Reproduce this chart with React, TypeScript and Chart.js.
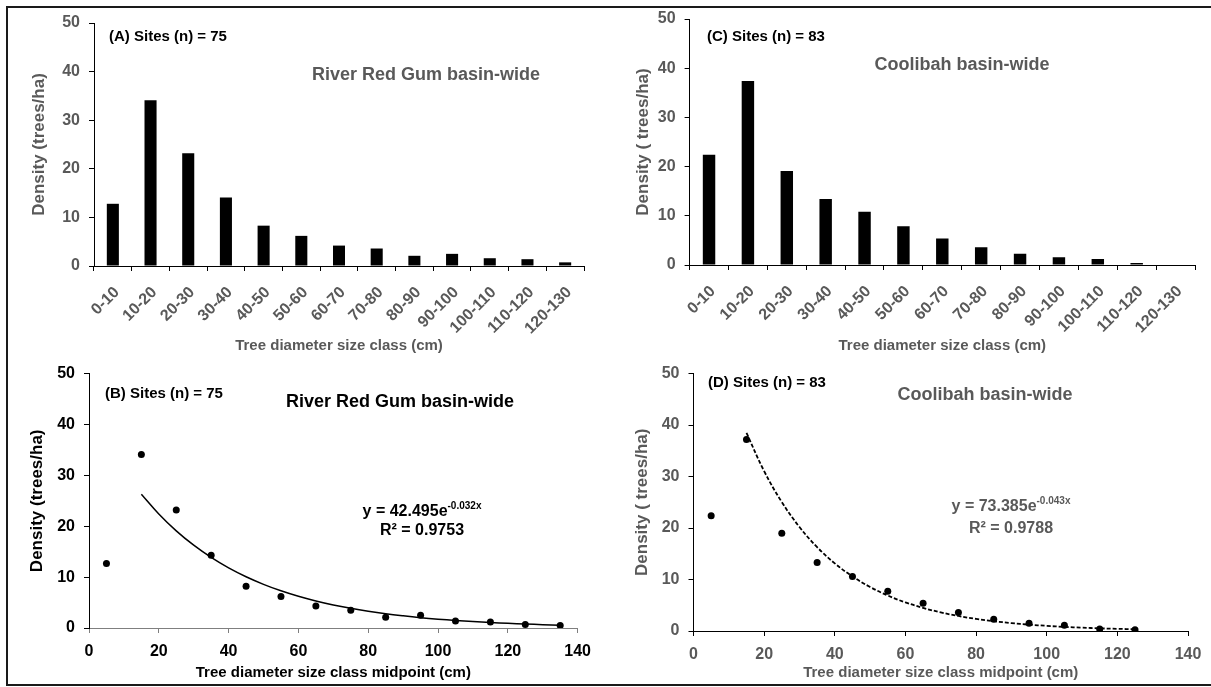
import React, { useEffect, useRef } from "react";
import { Chart, registerables } from "chart.js";
Chart.register(...registerables);

// ---------- data ----------
const sizeClasses = ["0-10", "10-20", "20-30", "30-40", "40-50", "50-60", "60-70", "70-80", "80-90", "90-100", "100-110", "110-120", "120-130"];
const redGumDensity = [12.8, 34.1, 23.2, 14.1, 8.3, 6.2, 4.2, 3.6, 2.1, 2.5, 1.6, 1.4, 0.75];
const coolibahDensity = [22.4, 37.4, 19.1, 13.4, 10.8, 7.9, 5.4, 3.6, 2.3, 1.6, 1.2, 0.4, 0];

const redGumMidpoints = [5, 15, 25, 35, 45, 55, 65, 75, 85, 95, 105, 115, 125, 135];
const redGumPoints = [12.7, 34.1, 23.2, 14.3, 8.2, 6.2, 4.3, 3.5, 2.1, 2.5, 1.4, 1.2, 0.7, 0.5];
const coolibahMidpoints = [5, 15, 25, 35, 45, 55, 65, 75, 85, 95, 105, 115, 125];
const coolibahPoints = [22.4, 37.2, 19.0, 13.3, 10.6, 7.7, 5.4, 3.6, 2.3, 1.5, 1.1, 0.4, 0.25];

// trendline values (y = 42.495e^-0.032x, y = 73.385e^-0.043x)
const redGumTrendX = [15, 20, 25, 30, 35, 40, 45, 50, 55, 60, 65, 70, 75, 80, 85, 90, 95, 100, 105, 110, 115, 120, 125, 130, 135];
const redGumTrendY = [26.30, 22.41, 19.09, 16.27, 13.87, 11.81, 10.07, 8.58, 7.31, 6.23, 5.31, 4.52, 3.86, 3.29, 2.80, 2.39, 2.03, 1.73, 1.48, 1.26, 1.07, 0.91, 0.78, 0.66, 0.56];
const coolibahTrendX = [15, 20, 25, 30, 35, 40, 45, 50, 55, 60, 65, 70, 75, 80, 85, 90, 95, 100, 105, 110, 115, 120, 125];
const coolibahTrendY = [38.50, 31.06, 25.05, 20.20, 16.29, 13.14, 10.60, 8.55, 6.89, 5.56, 4.49, 3.62, 2.92, 2.35, 1.90, 1.53, 1.23, 1.00, 0.80, 0.65, 0.52, 0.42, 0.34];

const densityTicks = [0, 10, 20, 30, 40, 50];
const midpointTicks = [0, 20, 40, 60, 80, 100, 120, 140];

// ---------- styling ----------
const NARROW = "'Liberation Sans Narrow', 'Arial Narrow', 'Liberation Sans', sans-serif";
const TICKFONT = "'Liberation Sans', Arial, sans-serif";
const GRAY = "#595959";
const BLACK = "#000000";

type TextItem = {
  text: string;
  x: number;
  y: number;
  size: number;
  color: string;
  align: "left" | "center";
  sup?: string;
  supSize?: number;
};

function makeTextPlugin(items: TextItem[]) {
  return {
    id: "panelText",
    afterDraw(chart: any) {
      const ctx = chart.ctx as CanvasRenderingContext2D;
      items.forEach((it) => {
        ctx.save();
        ctx.fillStyle = it.color;
        ctx.textBaseline = "middle";
        ctx.textAlign = "left";
        const mainFont = `bold ${it.size}px ${NARROW}`;
        const supFont = `bold ${it.supSize || 10}px ${NARROW}`;
        ctx.font = mainFont;
        const w1 = ctx.measureText(it.text).width;
        let w2 = 0;
        if (it.sup) {
          ctx.font = supFont;
          w2 = ctx.measureText(it.sup).width;
        }
        const x0 = it.align === "center" ? it.x - (w1 + w2) / 2 : it.x;
        ctx.font = mainFont;
        ctx.fillText(it.text, x0, it.y);
        if (it.sup) {
          ctx.font = supFont;
          ctx.fillText(it.sup, x0 + w1, it.y - it.size * 0.38);
        }
        ctx.restore();
      });
    },
  };
}

type Layout = {
  padTop: number;
  padRight: number;
  yWidth: number;
  xHeight: number;
  yTitlePad: number;
  xTitlePad: number;
  tickColor: string;
  titleColor: string;
  xAxisColor: string;
  yTitle: string;
  xTitle: string;
};

function yScale(l: Layout) {
  return {
    min: 0,
    max: 50,
    afterBuildTicks: (s: any) => {
      s.ticks = densityTicks.map((v) => ({ value: v }));
    },
    afterFit: (s: any) => {
      s.width = l.yWidth;
    },
    ticks: {
      color: l.tickColor,
      font: { family: TICKFONT, size: 16, weight: "bold" },
      padding: 9,
    },
    grid: { display: true, drawOnChartArea: false, drawTicks: true, tickLength: 5, color: BLACK },
    border: { display: true, color: BLACK, width: 1 },
    title: {
      display: true,
      text: l.yTitle,
      color: l.titleColor,
      font: { family: NARROW, size: 17, weight: "bold" },
      padding: { top: l.yTitlePad, bottom: 0 },
    },
  };
}

function barConfig(values: number[], l: Layout, items: TextItem[]) {
  return {
    type: "bar",
    data: {
      labels: sizeClasses,
      datasets: [
        {
          data: values,
          backgroundColor: BLACK,
          borderWidth: 0,
          categoryPercentage: 1,
          barPercentage: 0.32,
        },
      ],
    },
    options: {
      animation: false,
      responsive: false,
      layout: { padding: { top: l.padTop, right: l.padRight, left: 0, bottom: 0 } },
      plugins: { legend: { display: false }, tooltip: { enabled: false } },
      scales: {
        x: {
          afterFit: (s: any) => {
            s.height = l.xHeight;
          },
          ticks: {
            color: l.tickColor,
            font: { family: TICKFONT, size: 16, weight: "bold" },
            minRotation: 45,
            maxRotation: 45,
            autoSkip: false,
            padding: 12,
            labelOffset: 4,
          },
          grid: { display: true, offset: true, drawOnChartArea: false, drawTicks: true, tickLength: 5, color: l.xAxisColor },
          border: { display: true, color: l.xAxisColor, width: 1 },
          title: {
            display: true,
            text: l.xTitle,
            color: l.titleColor,
            font: { family: NARROW, size: 15, weight: "bold" },
            padding: { top: 0, bottom: l.xTitlePad },
          },
        },
        y: yScale(l),
      },
    },
    plugins: [makeTextPlugin(items)],
  };
}

function scatterConfig(
  xs: number[],
  ys: number[],
  tx: number[],
  ty: number[],
  dashed: boolean,
  l: Layout,
  items: TextItem[]
) {
  return {
    type: "scatter",
    data: {
      datasets: [
        {
          data: tx.map((x, i) => ({ x, y: ty[i] })),
          showLine: true,
          borderColor: BLACK,
          borderWidth: dashed ? 1.8 : 1.5,
          borderDash: dashed ? [4, 2] : [],
          pointRadius: 0,
          tension: 0.4,
          fill: false,
        },
        {
          data: xs.map((x, i) => ({ x, y: ys[i] })),
          backgroundColor: BLACK,
          borderColor: BLACK,
          pointRadius: 3.5,
          pointBorderWidth: 0,
        },
      ],
    },
    options: {
      animation: false,
      responsive: false,
      layout: { padding: { top: l.padTop, right: l.padRight, left: 0, bottom: 0 } },
      plugins: { legend: { display: false }, tooltip: { enabled: false } },
      scales: {
        x: {
          type: "linear",
          min: 0,
          max: 140,
          afterBuildTicks: (s: any) => {
            s.ticks = midpointTicks.map((v) => ({ value: v }));
          },
          afterFit: (s: any) => {
            s.height = l.xHeight;
          },
          ticks: {
            color: l.tickColor,
            font: { family: TICKFONT, size: 16, weight: "bold" },
            padding: 9,
            maxRotation: 0,
          },
          grid: { display: true, drawOnChartArea: false, drawTicks: true, tickLength: 5, color: l.xAxisColor },
          border: { display: true, color: l.xAxisColor, width: 1 },
          title: {
            display: true,
            text: l.xTitle,
            color: l.titleColor,
            font: { family: NARROW, size: 15, weight: "bold" },
            padding: { top: 0, bottom: l.xTitlePad },
          },
        },
        y: yScale(l),
      },
    },
    plugins: [makeTextPlugin(items)],
  };
}

function Panel({ left, top, width, height, config }: { left: number; top: number; width: number; height: number; config: any }) {
  const ref = useRef<HTMLCanvasElement | null>(null);
  useEffect(() => {
    if (!ref.current) return;
    const chart = new Chart(ref.current, config);
    return () => chart.destroy();
  }, [config]);
  return (
    <div style={{ position: "absolute", left, top, width, height }}>
      <canvas ref={ref} width={width} height={height} style={{ display: "block", width, height }} />
    </div>
  );
}

const layoutA: Layout = {
  padTop: 23, padRight: 16, yWidth: 94, xHeight: 94, yTitlePad: 29, xTitlePad: 5,
  tickColor: GRAY, titleColor: GRAY, xAxisColor: BLACK,
  yTitle: "Density (trees/ha)", xTitle: "Tree diameter size class (cm)",
};
const layoutC: Layout = {
  padTop: 19, padRight: 16, yWidth: 89.6, xHeight: 95, yTitlePad: 33, xTitlePad: 5,
  tickColor: GRAY, titleColor: GRAY, xAxisColor: BLACK,
  yTitle: "Density ( trees/ha)", xTitle: "Tree diameter size class (cm)",
};
const layoutB: Layout = {
  padTop: 13, padRight: 12, yWidth: 89, xHeight: 59, yTitlePad: 27, xTitlePad: 5,
  tickColor: BLACK, titleColor: BLACK, xAxisColor: "#7f7f7f",
  yTitle: "Density (trees/ha)", xTitle: "Tree diameter size class midpoint (cm)",
};
const layoutD: Layout = {
  padTop: 13, padRight: 23, yWidth: 93.5, xHeight: 56, yTitlePad: 32, xTitlePad: 5,
  tickColor: GRAY, titleColor: GRAY, xAxisColor: BLACK,
  yTitle: "Density ( trees/ha)", xTitle: "Tree diameter size class midpoint (cm)",
};

const textA: TextItem[] = [
  { text: "(A) Sites (n) = 75", x: 109, y: 37, size: 15, color: BLACK, align: "left" },
  { text: "River Red Gum basin-wide", x: 426, y: 75, size: 18, color: GRAY, align: "center" },
];
const textC: TextItem[] = [
  { text: "(C) Sites (n) = 83", x: 107, y: 37, size: 15, color: BLACK, align: "left" },
  { text: "Coolibah basin-wide", x: 362, y: 65, size: 18, color: GRAY, align: "center" },
];
const textB: TextItem[] = [
  { text: "(B) Sites (n) = 75", x: 105, y: 39, size: 15, color: BLACK, align: "left" },
  { text: "River Red Gum basin-wide", x: 400, y: 47, size: 18, color: BLACK, align: "center" },
  { text: "y = 42.495e", x: 422, y: 157, size: 16, color: BLACK, align: "center", sup: "-0.032x", supSize: 10 },
  { text: "R² = 0.9753", x: 422, y: 176, size: 16, color: BLACK, align: "center" },
];
const textD: TextItem[] = [
  { text: "(D) Sites (n) = 83", x: 108, y: 28, size: 15, color: BLACK, align: "left" },
  { text: "Coolibah basin-wide", x: 385, y: 40, size: 18, color: GRAY, align: "center" },
  { text: "y = 73.385e", x: 411, y: 152, size: 16, color: GRAY, align: "center", sup: "-0.043x", supSize: 10 },
  { text: "R² = 0.9788", x: 411, y: 174, size: 16, color: GRAY, align: "center" },
];

const configA = barConfig(redGumDensity, layoutA, textA);
const configC = barConfig(coolibahDensity, layoutC, textC);
const configB = scatterConfig(redGumMidpoints, redGumPoints, redGumTrendX, redGumTrendY, false, layoutB, textB);
const configD = scatterConfig(coolibahMidpoints, coolibahPoints, coolibahTrendX, coolibahTrendY, true, layoutD, textD);

export default function App() {
  return (
    <div style={{ position: "absolute", left: 0, top: 0, width: 1211, height: 687, background: "#fff", overflow: "hidden" }}>
      <div
        style={{
          position: "absolute",
          left: 6,
          top: 6,
          width: 1205,
          height: 680,
          boxSizing: "border-box",
          borderTop: "2px solid #1a1a1a",
          borderLeft: "2px solid #1a1a1a",
          borderBottom: "2px solid #1a1a1a",
        }}
      />
      <Panel left={0} top={0} width={600} height={360} config={configA} />
      <Panel left={600} top={0} width={611} height={360} config={configC} />
      <Panel left={0} top={355} width={600} height={332} config={configB} />
      <Panel left={600} top={355} width={611} height={332} config={configD} />
    </div>
  );
}
